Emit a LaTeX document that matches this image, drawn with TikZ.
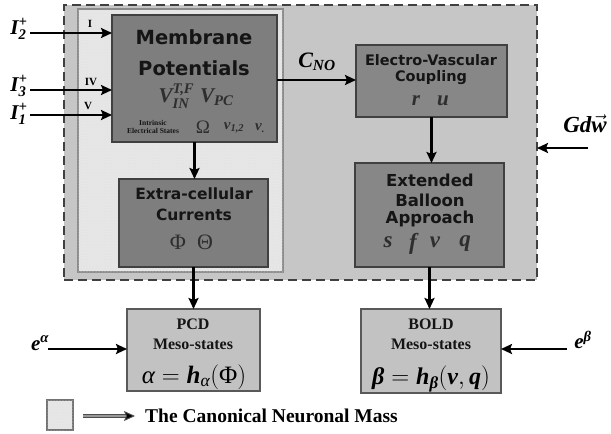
\documentclass[tikz,border=0pt]{standalone}
\usepackage{fontspec}
\usepackage{amsmath}
\setmainfont{Liberation Serif}
\newfontfamily\vsans{DejaVu Sans}
\usetikzlibrary{arrows.meta,patterns}
\newcommand{\bi}[1]{\text{\bfseries\itshape #1}}
\definecolor{outerfill}{HTML}{C6C6C6}
\definecolor{canonfill}{HTML}{E6E6E6}
\definecolor{darkfill}{HTML}{7E7E7E}
\definecolor{midfill}{HTML}{878787}
\definecolor{lightfill}{HTML}{C2C2C2}
\definecolor{txt}{HTML}{151515}
\definecolor{vartxt}{HTML}{2E2E2E}
\tikzset{
  box/.style={draw=black!75, line width=1.2pt, inner sep=0pt, outer sep=0pt},
  darkbox/.style={box, fill=darkfill},
  midbox/.style={box, fill=midfill},
  lightbox/.style={box, fill=lightfill, draw=black!65},
  speckle/.style={fill=canonfill, postaction={pattern=dots, pattern color=black!12}},
  conn/.style={line width=2.6pt, -{Stealth[length=11pt,width=10pt,inset=2pt]}},
  sanstitle/.style={font=\vsans\bfseries\fontsize{#1}{#1}\selectfont, text=txt, inner sep=0pt},
  sertitle/.style={font=\bfseries\fontsize{#1}{#1}\selectfont, text=txt, inner sep=0pt},
  var/.style={font=\fontsize{#1}{#1}\selectfont, text=vartxt, inner sep=0pt},
  lab/.style={font=\fontsize{#1}{#1}\selectfont, text=black, inner sep=0pt},
}
\begin{document}
\begin{tikzpicture}[x=1pt,y=-1pt]
\useasboundingbox (0,0) rectangle (611,434);
% containers
\node[draw=black!75, fill=outerfill, dash pattern=on 9pt off 5pt, line width=1.6pt,
      minimum width=473pt, minimum height=275pt, inner sep=0pt, outer sep=0pt] (outer) at (300.5,142.5) {};
\node[speckle, draw=black!45, line width=2pt, minimum width=205pt, minimum height=263pt,
      inner sep=0pt, outer sep=0pt] (canon) at (180.5,140.5) {};
% boxes
\node[darkbox, minimum width=165pt, minimum height=127pt] (mem) at (194.5,78.5) {};
\node[darkbox, minimum width=149pt, minimum height=88pt] (ext) at (193.5,223) {};
\node[midbox, minimum width=151pt, minimum height=72pt] (evc) at (431.5,81) {};
\node[midbox, minimum width=149pt, minimum height=104pt] (eba) at (429.5,215) {};
\node[lightbox, minimum width=133pt, minimum height=82pt] (pcd) at (193.5,350) {};
\node[lightbox, minimum width=140pt, minimum height=84pt] (bold) at (431,351) {};
% membrane texts
\node[sanstitle=19.5] (memt1) at (194,37) {Membrane};
\node[sanstitle=19.5] (memt2) at (194,68) {Potentials};
\node[var=21] (memv) at (196,96) {$\bi{V}^{\bi{T,F}}_{\bi{IN}}\;\bi{V}_{\bi{PC}}$};
\node[font=\bfseries\fontsize{7.5}{8.5}\selectfont, text=txt, align=center, inner sep=0pt] (intr) at (153,127) {Intrinsic\\Electrical States};
\node[var=19] (omega) at (203,127) {Ω};
\node[var=15] (v12) at (234,128) {$\bi{v}_{\bi{1,2}}$};
\node[var=15] (vdot) at (260,128) {$\bi{v}_{\bi{.}}$};
% roman numerals
\node[lab=11] (r1) at (90,24) {\bfseries I};
\node[lab=11] (r4) at (91,82) {\bfseries IV};
\node[lab=11] (r5) at (88,106) {\bfseries V};
% input labels
\node[lab=21] (i2) at (19,29) {$\bi{I}^{\bi{+}}_{\bi{2}}$};
\node[lab=21] (i3) at (19,86) {$\bi{I}^{\bi{+}}_{\bi{3}}$};
\node[lab=21] (i1) at (19,114) {$\bi{I}^{\bi{+}}_{\bi{1}}$};
\coordinate (i2s) at (30,33);
\coordinate (i3s) at (30,90);
\coordinate (i1s) at (30,115);
\draw[conn] (i2s) -- (mem.west |- i2s);
\draw[conn] (i3s) -- (mem.west |- i3s);
\draw[conn] (i1s) -- (mem.west |- i1s);
% extracellular
\node[sanstitle=15.5] (extt1) at (194,194) {Extra-cellular};
\node[sanstitle=15.5] (extt2) at (194,215) {Currents};
\node[var=22] (phi) at (178,242) {Φ};
\node[var=22] (theta) at (205,242) {Θ};
% EVC
\node[sanstitle=14.5] (evct1) at (431,60) {Electro-Vascular};
\node[sanstitle=14.5] (evct2) at (431,78) {Coupling};
\node[var=21] (rr) at (416,101) {\bfseries\itshape r};
\node[var=21] (uu) at (443,101) {\bfseries\itshape u};
% EBA
\node[sanstitle=16.5] (ebat1) at (430,180) {Extended};
\node[sanstitle=16.5] (ebat2) at (430,200) {Balloon};
\node[sanstitle=16.5] (ebat3) at (430,219) {Approach};
\node[var=23] (ss) at (388,242) {\bfseries\itshape s};
\node[var=23] (ff) at (413,244) {\bfseries\itshape f};
\node[var=23] (vv) at (435,242) {\bfseries\itshape v};
\node[var=23] (qq) at (465,244) {\bfseries\itshape q};
% PCD
\node[sertitle=16] (pcdt1) at (193,324) {PCD};
\node[sertitle=16] (pcdt2) at (193,344) {Meso-states};
\node[lab=25] (pcdf) at (194,377) {$\text{\itshape α} = \bi{h}_{\text{\itshape α}}(\text{Φ})$};
% BOLD
\node[sertitle=16] (boldt1) at (431,324) {BOLD};
\node[sertitle=16] (boldt2) at (431,344) {Meso-states};
\node[lab=24] (boldf) at (431,379) {$\bi{β} = \bi{h}_{\bi{β}}(\bi{v},\bi{q})$};
% C_NO and Gdw
\node[lab=22] (cno) at (317,62) {$\bi{C}_{\bi{NO}}$};
\node[lab=23] (gdw) at (585,124) {$\bi{Gd}\vec{\bi{w}}$};
\coordinate (gs) at (588,148);
% e labels
\node[lab=21] (ea) at (40,343) {$\bi{e}^{\bi{α}}$};
\node[lab=21] (eb) at (583,340) {$\bi{e}^{\bi{β}}$};
\coordinate (eas) at (48,349);
\coordinate (ebs) at (567,349);
% connectors
\draw[conn] (mem.south) -- (mem.south |- ext.north);
\draw[conn] (ext.south) -- (ext.south |- pcd.north);
\draw[conn] (evc.south) -- (evc.south |- eba.north);
\draw[conn] (eba.south) -- (eba.south |- bold.north);
\coordinate (cnoy) at (0,80);
\draw[conn] (mem.east |- cnoy) -- (evc.west |- cnoy);
\draw[conn] (gs) -- (outer.east |- gs);
\draw[conn] (eas) -- (pcd.west |- eas);
\draw[conn] (ebs) -- (bold.east |- ebs);
% legend
\node[speckle, draw=black!55, line width=1.5pt, minimum width=26pt, minimum height=30pt,
      inner sep=0pt, outer sep=0pt] (legbox) at (60,415) {};
\coordinate (legs) at (83,416);
\coordinate (lege) at (135,416);
\draw[double=black!40, double distance=2.5pt, line width=1pt, draw=black!70,
      -{Stealth[length=11pt,width=10pt,inset=2pt,fill=black]}] (legs) -- (lege);
\node[sertitle=19.5, anchor=west, text=black] (legt) at (145,416) {The Canonical Neuronal Mass};
\end{tikzpicture}
\end{document}
